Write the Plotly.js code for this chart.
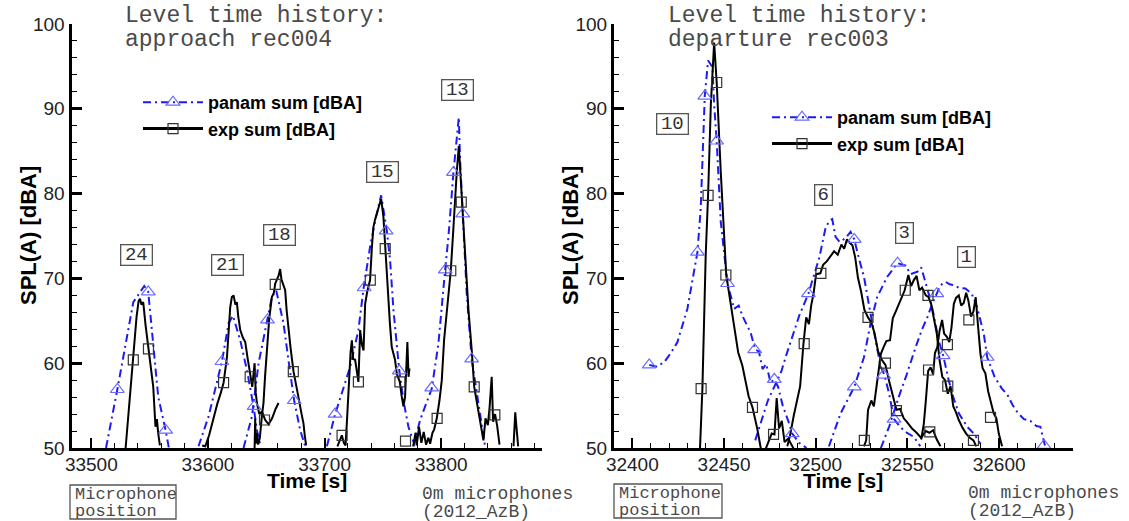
<!DOCTYPE html>
<html><head><meta charset="utf-8">
<script src="https://cdn.plot.ly/plotly-3.0.1.min.js"></script>
<style>html,body{margin:0;padding:0;background:#fff}#chart{width:1129px;height:521px}</style>
</head><body><div id="chart"></div>
<script>
// ===== Approach rec004 (left) =====
const apPanam24T = [33512.6, 33522.3, 33536, 33545.4, 33548.8, 33553.1, 33557.4, 33563.7, 33566.5];
const apPanam24V = [50, 56.9, 67.2, 69.1, 68.4, 61.9, 56, 52.1, 50];
const apPanam21T = [33591.9, 33600.5, 33612, 33617.7, 33621.4, 33627.7, 33633.4, 33639.1, 33642, 33644.8];
const apPanam21V = [50.2, 53.7, 60.2, 64.7, 65.6, 62.7, 59.2, 54.9, 52.1, 50.4];
const apPanam18T = [33630.5, 33637.7, 33643.4, 33650.5, 33654.8, 33658.5, 33664.8, 33669, 33673.9, 33679.1, 33683.4];
const apPanam18V = [50, 53.7, 60, 65.1, 67.8, 68.6, 64.7, 60.4, 55.6, 52.1, 50.2];
const apPanam15T = [33702, 33709.1, 33722, 33729, 33733.4, 33739, 33743.4, 33748.5, 33753.4, 33756.2, 33759.1, 33764, 33767.6, 33771.9, 33776.2];
const apPanam15V = [50.2, 54, 59.6, 63.9, 68.8, 73.7, 76.8, 79.8, 75.6, 72.1, 66.2, 59.2, 55.6, 52.5, 50.7];
const apPanam13T = [33776.2, 33781.9, 33791.9, 33797.6, 33803.3, 33806.2, 33810.5, 33815.1, 33816.2, 33818.5, 33821.9, 33826.2, 33830.5, 33834.8, 33837.6];
const apPanam13V = [50.2, 53.3, 57, 62.3, 70.9, 74.9, 82.5, 89, 83.9, 77.6, 68.2, 60.4, 56.4, 52.5, 50.2];

const apExp24T = [33529.4, 33532, 33534, 33536, 33538.8, 33540.5, 33541.7, 33543, 33544.5, 33546.5, 33548.8, 33551, 33553.1, 33555, 33556.2, 33557.4, 33558.8];
const apExp24V = [50, 54.5, 57.8, 60.4, 65.5, 67.3, 67.6, 66.9, 67.2, 64.5, 61.7, 59.5, 57.2, 52.5, 53.4, 51.7, 50.3];
const apExp21T = [33595, 33597.7, 33601, 33604.8, 33608, 33611, 33613.4, 33616.3, 33618, 33619.1, 33620.5, 33622, 33623.5, 33624.8, 33626, 33627.7, 33630, 33632, 33634, 33636.2, 33638, 33640, 33641, 33642, 33644, 33646.3, 33649.1, 33652, 33655, 33658, 33660.5];
const apExp21V = [50.3, 50.2, 51.5, 53.7, 55.2, 56.5, 57.7, 60.7, 63.8, 66.6, 67.8, 68.0, 66.9, 67.2, 65.5, 63.9, 63.0, 62.5, 60.6, 58.4, 57.2, 60.0, 56.5, 55.3, 54.0, 54.3, 53.3, 52.8, 53.5, 54.6, 55.3];
const apExp18T = [33640, 33640.5, 33641, 33642, 33643, 33644.5, 33646.2, 33647.6, 33649, 33650.5, 33652.5, 33654.8, 33656.5, 33657.7, 33659, 33660.5, 33661.9, 33663, 33664.5, 33666.2, 33667.5, 33669, 33671, 33673.4, 33675.5, 33677.6, 33680, 33681.9, 33683, 33684.2];
const apExp18V = [50, 53.5, 50.5, 51.8, 50.4, 51.2, 53.7, 55.3, 58.5, 61.9, 65.2, 67.8, 68.3, 69.4, 69.8, 70.3, 71.1, 69.9, 69.3, 68.6, 66.2, 63.9, 61.6, 59.0, 57.3, 56.0, 54.2, 52.9, 51.5, 50.3];
const apExp15T = [33711, 33713, 33714.8, 33716.5, 33718, 33719.5, 33721, 33722.3, 33723.4, 33724.5, 33726.2, 33727.5, 33729, 33730.5, 33732, 33733.4, 33734.8, 33736.5, 33739, 33740.5, 33741.8, 33743.2, 33744.7, 33746.5, 33748.5, 33750.5, 33752, 33753.5, 33754.7, 33756, 33757.6, 33759, 33760.4, 33762, 33764.5, 33766, 33767.6, 33769, 33770, 33771, 33772, 33772.8];
const apExp15V = [50.2, 50.8, 51.5, 50.6, 50.3, 54, 58.6, 61.3, 62.7, 60.5, 60.4, 59, 57.8, 63.9, 62.2, 61.5, 67, 68.4, 69.8, 73.5, 76, 76.9, 77.6, 78.3, 79.4, 77.2, 73.5, 70.6, 68.2, 64.7, 61.9, 61, 60.4, 58.7, 57.8, 56.2, 54.9, 56, 60.2, 62.5, 58.4, 59.4];
const apExp13T = [33776, 33778, 33779, 33781, 33783, 33785, 33787, 33789, 33790.5, 33792.5, 33794, 33796.2, 33798.5, 33800.5, 33802.5, 33804.8, 33806.5, 33808.2, 33810.5, 33812, 33813.4, 33815.1, 33816.3, 33817.7, 33819, 33820, 33821.8, 33823.4, 33825, 33826.2, 33828.3, 33830, 33832, 33833.5, 33834.8, 33836.2, 33838, 33840, 33841.5, 33843.3, 33844.5, 33846.2, 33848, 33850];
const apExp13V = [50.2, 51.8, 50.3, 52.5, 50.6, 51.9, 50.4, 51.2, 50.5, 51.8, 52.2, 53.5, 55.6, 58, 62.8, 66.2, 68.5, 70.9, 76, 79.8, 82.7, 85.6, 82.5, 79, 76.1, 73.7, 69.9, 66.2, 63.8, 61.5, 57.2, 55.8, 54.5, 53.2, 52.1, 50.9, 53.5, 52.7, 54.8, 58.4, 53.1, 54, 52.6, 50.4];
const apExpTailT = [33862, 33863.5, 33864.5, 33866];
const apExpTailV = [50.2, 54.2, 52.5, 50.2];

const apPanamMarkT = [33522.3, 33548.8, 33563.7, 33612, 33639.6, 33651, 33674, 33709, 33734, 33752.8, 33764, 33791.8, 33803.5, 33810.5, 33818.5, 33826.1];
const apPanamMarkV = [56.9, 68.4, 52.1, 60.2, 54.9, 65.1, 55.6, 54, 68.9, 75.6, 59.1, 57.1, 71, 82.5, 77.6, 60.5];
const apExpMarkT = [33536, 33549, 33613.4, 33636.2, 33648.5, 33657.7, 33673.2, 33715, 33729, 33739.2, 33752, 33764.6, 33769.4, 33796.5, 33808.2, 33817.2, 33828.3, 33846];
const apExpMarkV = [60.4, 61.7, 57.7, 58.4, 53.3, 69.3, 59, 51.5, 57.8, 69.8, 73.5, 57.8, 50.8, 53.5, 70.9, 79, 57.2, 53.9];

const apMicLabels = ['24', '21', '18', '15', '13'];
const apMicT = [33538.6, 33616.6, 33661.2, 33749.4, 33813.7];
const apMicV = [72.7, 71.6, 75.1, 82.5, 92.2];

// ===== Departure rec003 (right) =====
const dpPanam10T = [32409.2, 32413, 32417.3, 32421, 32424.6, 32430, 32435.5, 32437.3, 32439.5, 32441.3, 32443.7, 32444.6, 32446, 32448.2, 32451.9, 32455.5, 32458, 32460, 32462, 32464.5, 32467, 32469, 32471, 32473, 32475.4, 32477.4, 32479.5, 32482, 32485, 32487.2, 32491, 32495];
const dpPanam10V = [59.8, 59.6, 60.1, 61.2, 62.5, 66.4, 73.1, 78.3, 91.5, 95.7, 94.9, 90.5, 86.2, 76.7, 69.4, 66.4, 66.8, 65.6, 64.7, 63.6, 61.6, 61.4, 59.3, 59.9, 57.7, 58.1, 57.2, 55, 53.2, 51.7, 50.6, 50];
const dpPanam6T = [32467, 32470, 32473.9, 32478, 32481.2, 32484, 32487.5, 32491, 32496, 32499, 32502, 32505.4, 32507.5, 32509, 32510.8, 32513, 32516, 32519, 32521, 32523.5, 32526.3, 32529.9, 32532.6, 32535.4, 32537.5, 32540, 32542.7, 32546, 32549, 32553.5, 32557];
const dpPanam6V = [50.9, 53, 55.6, 57.5, 59, 61, 63.4, 65.6, 68.2, 70.5, 72.5, 76, 76.8, 77, 74.9, 74.3, 74.7, 75.5, 74.6, 72.4, 70.2, 65.8, 62.7, 59.6, 58.6, 56.4, 53.4, 52.5, 51.9, 51.3, 50.2];
const dpPanam3T = [32507.2, 32513.6, 32521, 32526.3, 32529.9, 32533.5, 32539, 32544.6, 32549, 32551.7, 32555.5, 32557.5, 32560, 32562.6, 32564.5, 32567, 32569.5, 32572.5, 32575, 32578, 32582.6, 32586.2, 32589.8];
const dpPanam3V = [50.2, 54.1, 57.2, 60.7, 64.7, 67.8, 70.2, 71.8, 71.5, 70.5, 70.8, 71.3, 69.4, 67.4, 65.5, 62.7, 60.9, 58, 56, 54.1, 52.5, 51.7, 50.5];
const dpPanam1T = [32535.5, 32540, 32545.7, 32549.5, 32554.5, 32558, 32561, 32563.5, 32566, 32568, 32570.8, 32573, 32575.3, 32578, 32581.6, 32585, 32588, 32591.6, 32593.5, 32597.5, 32601.5, 32604.5, 32607.5, 32610, 32613.5, 32617, 32620.3, 32622.5, 32623.8, 32625];
const dpPanam1V = [50, 52.5, 56.3, 58.6, 61.9, 64, 65.5, 67, 68.2, 69.2, 69.6, 69.3, 69.2, 68.9, 68.8, 68.2, 66.6, 63.5, 60.7, 58.4, 57, 56.3, 55, 54.2, 53.4, 53.2, 52.6, 52.5, 51.3, 50.3];

const dpExp10T = [32436.9, 32438.2, 32440, 32441.3, 32442.8, 32444.6, 32446, 32448.2, 32451.2, 32455, 32457.7, 32460, 32463.4, 32465.5, 32468.2, 32470, 32472, 32474, 32476, 32477.5, 32478.7, 32480, 32481.5, 32483, 32485, 32487, 32489];
const dpExp10V = [50, 57, 72.7, 79.8, 90.5, 97.8, 93.1, 82.6, 70.4, 64.8, 61.3, 59.7, 56.1, 54.8, 52.2, 50, 49.5, 50.6, 51.7, 51.6, 55.9, 52.3, 53.2, 50.7, 51.1, 50.3, 49.5];
const dpExp6T = [32484.5, 32486, 32488, 32489.5, 32491.5, 32493.3, 32494.8, 32496.3, 32497.5, 32498.8, 32500.2, 32502.5, 32504, 32506, 32508, 32510, 32512, 32514, 32515.5, 32517, 32518.5, 32520, 32521.5, 32523, 32524.8, 32526.5, 32528.5, 32530.3, 32532, 32534, 32536, 32538, 32540, 32542, 32544, 32546, 32548, 32550, 32552.5, 32555, 32557.5, 32560, 32562, 32564, 32566, 32568];
const dpExp6V = [50.2, 51.5, 53.8, 55.2, 57.3, 62.3, 65.4, 64.6, 66.8, 68.2, 70.5, 70.6, 71.6, 72.0, 72.6, 73.2, 72.8, 74.0, 73.5, 74.6, 74.2, 73.9, 72.5, 70.1, 68.4, 66.3, 65.4, 64.8, 63.6, 61.4, 60.4, 59.8, 57.9, 56.3, 54.5, 54.6, 53.5, 53.0, 52.3, 51.8, 51.2, 52.0, 51.8, 52.1, 51.0, 50.2];
const dpExp3T = [32526.3, 32527.5, 32528.5, 32530.3, 32531.7, 32533, 32534.4, 32535.5, 32537, 32538.5, 32540.5, 32542, 32544, 32546, 32548.5, 32550.5, 32552, 32553.5, 32555, 32556.5, 32558, 32560, 32561.5, 32563, 32564.4, 32566, 32567.5, 32569, 32570.5, 32572, 32573.5, 32575, 32576.5, 32578, 32580, 32582, 32584, 32586, 32587.5];
const dpExp3V = [50.2, 50.9, 54.5, 55.6, 54.9, 57.2, 59.5, 61.1, 61.9, 62.6, 62.7, 65.3, 66.3, 67.3, 68.6, 70.4, 69.1, 69.8, 70.3, 68.6, 68.9, 68.0, 67.8, 66.9, 65.5, 63.5, 60.4, 58.4, 58.0, 56.4, 57.3, 54.9, 54.2, 53.3, 52.4, 51.7, 51.2, 50.9, 50.2];
const dpExp1T = [32557.5, 32558.9, 32560, 32561.3, 32562.6, 32564, 32565, 32566.3, 32567.5, 32568.9, 32570, 32571.5, 32572.8, 32574, 32575.3, 32576.5, 32578, 32579.3, 32580.7, 32582, 32583.2, 32584.7, 32586, 32587.2, 32588.3, 32589.8, 32591, 32592.5, 32594, 32595.3, 32597, 32598.5, 32599.8, 32601.6];
const dpExp1V = [51, 52.8, 55.5, 59.1, 59.5, 58.7, 61.2, 61.9, 63.8, 65.1, 63.5, 63.1, 62.5, 64.2, 67, 67.7, 68, 66.8, 67.1, 68.3, 67.4, 65.5, 66.1, 67.8, 64.9, 61.1, 59.4, 58.8, 56.7, 55.4, 54.1, 53.5, 51.7, 50.2];

const dpPanamMarkT = [32409.2, 32435.5, 32439.5, 32446, 32451.9, 32466.7, 32477.4, 32487.2, 32496, 32521, 32537, 32542.7, 32521, 32544.6, 32569.5, 32566, 32593.5, 32624.5];
const dpPanamMarkV = [59.8, 73.1, 91.5, 86.2, 69.4, 61.6, 58.1, 51.7, 68.2, 74.6, 58.6, 53.4, 57.2, 71.8, 60.9, 68.2, 60.7, 50.3];
const dpExpMarkT = [32437.5, 32441.3, 32446, 32451, 32465.5, 32477, 32493.7, 32502.8, 32528.5, 32538, 32544, 32562.2, 32526.5, 32548.8, 32561.2, 32572, 32586, 32561.5, 32571.8, 32583.5, 32595.3];
const dpExpMarkV = [57, 79.8, 93.1, 70.4, 54.8, 51.6, 62.3, 70.6, 65.4, 60, 54.4, 51.9, 50.9, 68.6, 68, 57.3, 50.9, 59.2, 62.2, 65.1, 53.6];

const dpMicLabels = ['10', '6', '3', '1'];
const dpMicT = [32422.1, 32504.3, 32548.4, 32582.2];
const dpMicV = [88.2, 79.8, 75.4, 72.5];

const seriesNames = ['panam sum [dBA]', 'exp sum [dBA]'];

// ===== styling =====
const BLUE = '#1c1cf2';
const panamLine = {color: BLUE, width: 2, dash: '8px,4px,2px,4px'};
const expLine = {color: '#000', width: 2};
const panamMarker = {symbol: 'triangle-up-open', size: 12, color: '#6b6bff', line: {width: 1.2, color: '#6b6bff'}};
const expMarker = {symbol: 'square-open', size: 10, color: '#333', line: {width: 1.2, color: '#333'}};

function sep(a) { const o = []; a.forEach((v, i) => { if (i) o.push(null); o.push(v); }); return o; }

const traces = [];
function lineTrace(x, y, line, xa, ya) {
  traces.push({x: x, y: y, type: 'scatter', mode: 'lines', line: line, xaxis: xa, yaxis: ya, showlegend: false});
}
function markTrace(x, y, name, line, marker, xa, ya, lg) {
  traces.push({x: sep(x), y: sep(y), type: 'scatter', mode: 'lines+markers', name: name, line: line, marker: marker,
    connectgaps: false, xaxis: xa, yaxis: ya, legend: lg, showlegend: true});
}

[[apPanam24T, apPanam24V], [apPanam21T, apPanam21V], [apPanam18T, apPanam18V], [apPanam15T, apPanam15V], [apPanam13T, apPanam13V]]
  .forEach(d => lineTrace(d[0], d[1], panamLine, 'x', 'y'));
[[apExp24T, apExp24V], [apExp21T, apExp21V], [apExp18T, apExp18V], [apExp15T, apExp15V], [apExp13T, apExp13V], [apExpTailT, apExpTailV]]
  .forEach(d => lineTrace(d[0], d[1], expLine, 'x', 'y'));
markTrace(apPanamMarkT, apPanamMarkV, seriesNames[0], panamLine, panamMarker, 'x', 'y', 'legend');
markTrace(apExpMarkT, apExpMarkV, seriesNames[1], Object.assign({}, expLine, {width: 3}), expMarker, 'x', 'y', 'legend');

[[dpPanam10T, dpPanam10V], [dpPanam6T, dpPanam6V], [dpPanam3T, dpPanam3V], [dpPanam1T, dpPanam1V]]
  .forEach(d => lineTrace(d[0], d[1], panamLine, 'x2', 'y2'));
[[dpExp10T, dpExp10V], [dpExp6T, dpExp6V], [dpExp3T, dpExp3V], [dpExp1T, dpExp1V]]
  .forEach(d => lineTrace(d[0], d[1], expLine, 'x2', 'y2'));
markTrace(dpPanamMarkT, dpPanamMarkV, seriesNames[0], panamLine, panamMarker, 'x2', 'y2', 'legend2');
markTrace(dpExpMarkT, dpExpMarkV, seriesNames[1], Object.assign({}, expLine, {width: 3}), expMarker, 'x2', 'y2', 'legend2');

const SANS = 'Liberation Sans, Arial, sans-serif';
const MONO = 'Liberation Mono, Courier New, monospace';
const tickFont = {family: SANS, size: 19, color: '#222'};

const W = 1129, H = 521;
const px = v => v / W, py = v => 1 - v / H;
const yDom = [py(448), py(24)];
const xDomL = [px(71.5), px(541.5)], xDomR = [px(614), px(1072.5)];
const xRangeL = [33483, 33886], xRangeR = [32390, 32640];

function xAxis(range, dtick, tick0, minorDt, domain, anchor, extra) {
  return Object.assign({range: range, dtick: dtick, tick0: tick0, tickformat: 'd', domain: domain, anchor: anchor,
    ticks: 'inside', ticklen: 10, tickwidth: 2, tickcolor: '#000', ticklabelstandoff: -3,
    minor: {dtick: minorDt, ticks: 'inside', ticklen: 5, tickwidth: 1, tickcolor: '#000', showgrid: false},
    showline: true, linewidth: 3, linecolor: '#000', showgrid: false, zeroline: false, tickfont: tickFont}, extra || {});
}
function yAxis(domain, anchor, extra) {
  return Object.assign({range: [50, 100], dtick: 10, tick0: 50, domain: domain, anchor: anchor,
    ticks: 'inside', ticklen: 10, tickwidth: 3, tickcolor: '#000',
    minor: {dtick: 2, ticks: 'inside', ticklen: 5, tickwidth: 1, tickcolor: '#000', showgrid: false},
    showline: true, linewidth: 3, linecolor: '#000', showgrid: false, zeroline: false, tickfont: tickFont}, extra || {});
}
const tickOnly = ov => ({overlaying: ov, showticklabels: false, showline: false});

const annotations = [];
function paperText(text, x, y, size) {
  annotations.push({text: text, xref: 'paper', yref: 'paper', x: px(x), y: py(y), xanchor: 'left', yanchor: 'middle',
    showarrow: false, font: {family: MONO, size: size, color: '#4a4a4a'}});
}
paperText('Level time history:', 123, 16, 23);
paperText('approach rec004', 123, 40, 23);
paperText('Level time history:', 666, 16, 23);
paperText('departure rec003', 666, 40, 23);
paperText('Microphone', 73, 494, 17);
paperText('position', 73, 511, 17);
paperText('Microphone', 617, 493, 17);
paperText('position', 617, 510, 17);
paperText('0m microphones', 420, 494, 18);
paperText('(2012_AzB)', 420, 512, 18);
paperText('0m microphones', 966, 493, 18);
paperText('(2012_AzB)', 966, 511, 18);

function axisTitles(cx, yTitleX) {
  annotations.push({text: 'Time [s]', xref: 'paper', yref: 'paper', x: px(cx), y: py(480), xanchor: 'center', yanchor: 'middle',
    showarrow: false, font: {family: SANS, size: 21, color: '#000', weight: 'bold'}});
  annotations.push({text: 'SPL(A) [dBA]', xref: 'paper', yref: 'paper', x: px(yTitleX), y: py(236), xanchor: 'center', yanchor: 'middle',
    textangle: -90, showarrow: false, font: {family: SANS, size: 22, color: '#000', weight: 'bold'}});
}
axisTitles(306.5, 28);
axisTitles(843, 570);

function micBoxes(labels, ts, vs, xa, ya) {
  labels.forEach((l, i) => annotations.push({text: l, x: ts[i], y: vs[i], xref: xa, yref: ya, showarrow: false,
    font: {family: MONO, size: 19, color: '#333'}, bordercolor: '#555', borderwidth: 1.3, borderpad: 0,
    width: l.length > 1 ? 30 : 16, height: 19}));
}
micBoxes(apMicLabels, apMicT, apMicV, 'x', 'y');
micBoxes(dpMicLabels, dpMicT, dpMicV, 'x2', 'y2');

const shapes = [
  {type: 'rect', xref: 'paper', yref: 'paper', x0: px(70), x1: px(176), y0: py(519), y1: py(485), line: {color: '#555', width: 1.3}},
  {type: 'rect', xref: 'paper', yref: 'paper', x0: px(614), x1: px(722), y0: py(518), y1: py(484), line: {color: '#555', width: 1.3}}
];

const legendBase = {bgcolor: 'rgba(0,0,0,0)', borderwidth: 0, xanchor: 'left', yanchor: 'top', tracegroupgap: 0,
  font: {family: SANS, size: 18, color: '#000', weight: 'bold'}, itemwidth: 60};

const layout = {
  width: W, height: H, margin: {l: 0, r: 0, t: 0, b: 0}, paper_bgcolor: '#fff', plot_bgcolor: '#fff',
  xaxis: xAxis(xRangeL, 100, 33500, 20, xDomL, 'y'),
  yaxis: yAxis(yDom, 'x'),
  xaxis2: xAxis(xRangeR, 50, 32400, 10, xDomR, 'y2'),
  yaxis2: yAxis(yDom, 'x2'),
  // tick-only overlay axes (same ranges) so the inside ticks are drawn on top
  xaxis3: xAxis(xRangeL, 100, 33500, 20, xDomL, 'y3', tickOnly('x')),
  yaxis3: yAxis(yDom, 'x3', tickOnly('y')),
  xaxis4: xAxis(xRangeR, 50, 32400, 10, xDomR, 'y4', tickOnly('x2')),
  yaxis4: yAxis(yDom, 'x4', tickOnly('y2')),
  legend: Object.assign({}, legendBase, {x: px(138), y: py(84)}),
  legend2: Object.assign({}, legendBase, {x: px(767), y: py(99)}),
  annotations: annotations, shapes: shapes, showlegend: true
};

Plotly.newPlot('chart', traces, layout, {staticPlot: true, displayModeBar: false});
</script></body></html>
